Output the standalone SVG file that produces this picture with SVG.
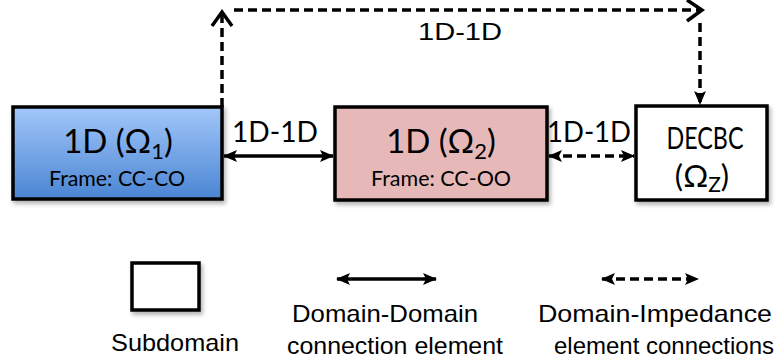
<svg xmlns="http://www.w3.org/2000/svg" width="775" height="362" viewBox="0 0 775 362">
<style>
.box{stroke:#000;stroke-width:3.5}
.cal{font-family:Lato,"Open Sans",sans-serif;fill:#000}
.ari{font-family:"Liberation Sans",Arial,sans-serif;fill:#000}
.ln{fill:none;stroke:#000;stroke-width:3.5}
.dash{stroke-dasharray:9,5}
.chev{fill:none;stroke:#000;stroke-width:3.5;stroke-linejoin:miter}
</style>
<defs>
<linearGradient id="blue" x1="0" y1="0" x2="0" y2="1">
<stop offset="0" stop-color="#A2C7FA"/>
<stop offset="1" stop-color="#4A85D3"/>
</linearGradient>
<filter id="sh" x="-10%" y="-10%" width="130%" height="130%">
<feDropShadow dx="2" dy="3" stdDeviation="2" flood-color="#000" flood-opacity="0.3"/>
</filter>
<marker id="stealth" viewBox="0 0 14 12" refX="13" refY="6" markerWidth="14" markerHeight="12" markerUnits="userSpaceOnUse" orient="auto-start-reverse">
<path d="M0,0 L14,6 L0,12 L3,6 Z" fill="#000"/>
</marker>
</defs>
<g id="connectors">
<line class="ln" x1="224" y1="156" x2="333" y2="156" marker-start="url(#stealth)" marker-end="url(#stealth)"/>
<line class="ln dash" x1="549" y1="156" x2="634" y2="156" marker-start="url(#stealth)" marker-end="url(#stealth)"/>
<path class="ln dash" d="M222,107 V13"/>
<polyline class="chev" points="212,26 222,12 232,26"/>
<path class="ln dash" d="M234,10 H700"/>
<polyline class="chev" points="687,0 702,10 687,21"/>
<path class="ln dash" d="M700,23 V104" marker-end="url(#stealth)"/>
<text class="cal" x="275" y="142" font-size="28" text-anchor="middle" textLength="86" lengthAdjust="spacingAndGlyphs">1D-1D</text>
<text class="cal" x="589" y="142" font-size="28" text-anchor="middle" textLength="84" lengthAdjust="spacingAndGlyphs">1D-1D</text>
<text class="ari" x="460" y="40" font-size="24" text-anchor="middle" textLength="84" lengthAdjust="spacingAndGlyphs">1D-1D</text>
</g>
<g id="node-omega1">
<rect class="box" x="13" y="107" width="209" height="92" fill="url(#blue)" filter="url(#sh)"/>
<text class="cal" x="118" y="153" font-size="33" text-anchor="middle">1D (Ω<tspan font-size="22" dy="6">1</tspan><tspan dy="-6">)</tspan></text>
<text class="cal" x="117" y="186" font-size="22" text-anchor="middle" textLength="136" lengthAdjust="spacingAndGlyphs">Frame: CC-CO</text>
</g>
<g id="node-omega2">
<rect class="box" x="335" y="107" width="212" height="93" fill="#E6B9B8" filter="url(#sh)"/>
<text class="cal" x="441" y="153" font-size="33" text-anchor="middle">1D (Ω<tspan font-size="22" dy="6">2</tspan><tspan dy="-6">)</tspan></text>
<text class="cal" x="441" y="186" font-size="22" text-anchor="middle" textLength="140" lengthAdjust="spacingAndGlyphs">Frame: CC-OO</text>
</g>
<g id="node-omegaz">
<rect class="box" x="636" y="106" width="131" height="94" fill="#fff" filter="url(#sh)"/>
<text class="cal" x="705" y="149" font-size="31" text-anchor="middle" textLength="77" lengthAdjust="spacingAndGlyphs">DECBC</text>
<text class="cal" x="702" y="187" font-size="31" text-anchor="middle">(Ω<tspan font-size="21" dy="5">Z</tspan><tspan dy="-5">)</tspan></text>
</g>
<g id="legend">
<rect class="box" x="132" y="263" width="67" height="47" fill="#fff" filter="url(#sh)"/>
<text class="ari" x="175" y="351" font-size="24" text-anchor="middle" textLength="128" lengthAdjust="spacingAndGlyphs">Subdomain</text>
<line class="ln" x1="337" y1="279" x2="436" y2="279" marker-start="url(#stealth)" marker-end="url(#stealth)"/>
<text class="ari" x="385" y="322" font-size="24" text-anchor="middle" textLength="186" lengthAdjust="spacingAndGlyphs">Domain-Domain</text>
<text class="ari" x="395" y="354" font-size="24" text-anchor="middle" textLength="216" lengthAdjust="spacingAndGlyphs">connection element</text>
<line class="ln dash" x1="602" y1="279" x2="698" y2="279" marker-start="url(#stealth)" marker-end="url(#stealth)"/>
<text class="ari" x="655" y="322" font-size="24" text-anchor="middle" textLength="234" lengthAdjust="spacingAndGlyphs">Domain-Impedance</text>
<text class="ari" x="664" y="354" font-size="24" text-anchor="middle" textLength="220" lengthAdjust="spacingAndGlyphs">element connections</text>
</g>
</svg>
